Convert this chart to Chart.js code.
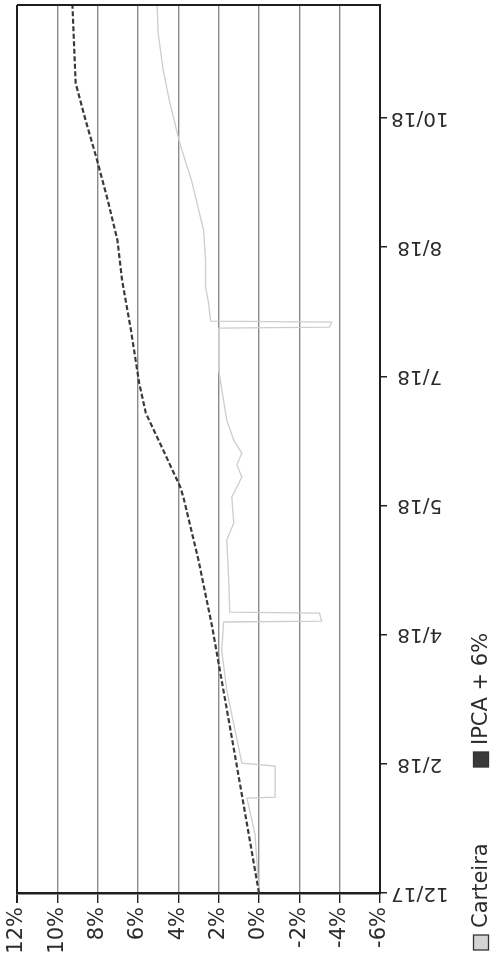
<!DOCTYPE html>
<html>
<head>
<meta charset="utf-8">
<script src="https://cdn.jsdelivr.net/npm/chart.js@4/dist/chart.umd.min.js"></script>
<style>
  html, body { margin: 0; padding: 0; background: #ffffff; }
  #wrap { width: 493px; height: 966px; position: relative; }
</style>
</head>
<body>
<div id="wrap"><canvas id="c"></canvas></div>
<script>
// Tick labels
const rotulosData = ['12/17', '2/18', '4/18', '5/18', '7/18', '8/18', '10/18'];
const ticksPct = [12, 10, 8, 6, 4, 2, 0, -2, -4, -6];
const tempoMax = 6.875; // end of the series, in date-tick intervals

// Series names
const nomes = ['Carteira', 'IPCA + 6%'];

// Carteira: position along the date axis (in tick intervals) and return (%)
const tempoCarteira = [0, 0.46, 0.735, 0.743, 0.983, 1.006, 1.571, 1.881, 2.098, 2.105, 2.167, 2.175, 2.423, 2.732, 2.864, 3.065, 3.22, 3.313, 3.406, 3.506, 3.661, 4.048, 4.373, 4.381, 4.42, 4.427, 4.567, 4.69, 4.899, 5.132, 5.519, 5.789, 5.882, 6.138, 6.37, 6.656, 6.873];
const carteira = [0, 0.2, 0.6, -0.8, -0.8, 0.85, 1.6, 1.85, 1.75, -3.1, -3.0, 1.45, 1.5, 1.6, 1.25, 1.35, 0.85, 1.1, 0.85, 1.25, 1.6, 2.0, 2.0, -3.5, -3.6, 2.4, 2.5, 2.65, 2.65, 2.75, 3.35, 3.9, 4.05, 4.45, 4.75, 5.0, 5.05];

// IPCA + 6%
const tempoIPCA = [0, 1.029, 2.059, 2.577, 3.065, 3.142, 3.429, 3.715, 3.947, 4.358, 4.745, 5.054, 5.364, 5.697, 5.983, 6.269, 6.602, 6.873];
const ipca = [0, 1.15, 2.32, 3.0, 3.75, 3.9, 4.75, 5.61, 5.94, 6.35, 6.79, 7.02, 7.5, 8.07, 8.6, 9.09, 9.18, 9.25];

const FONT = 'DejaVu Sans';
const TXT = '#2b2b2b';

const pontos = (ts, vs) => ts.map((t, i) => ({ x: vs[i], y: t }));

const legendaVertical = {
  id: 'legendaVertical',
  afterDraw(chart) {
    const ctx = chart.ctx;
    const area = chart.chartArea;
    // top border of plot area
    ctx.save();
    ctx.strokeStyle = '#1e1e1e';
    ctx.lineWidth = 2;
    ctx.beginPath();
    ctx.moveTo(area.left, area.top);
    ctx.lineTo(area.right, area.top);
    ctx.stroke();
    ctx.restore();

    // rotated legend (reads bottom to top)
    ctx.save();
    ctx.translate(chart.width - 12, area.bottom + 57);
    ctx.rotate(-Math.PI / 2);
    ctx.font = '21px "' + FONT + '"';
    ctx.textBaseline = 'middle';
    ctx.textAlign = 'left';
    const passo = [0, 183];
    chart.data.datasets.forEach((ds, i) => {
      const p = passo[i];
      ctx.fillStyle = ds.caixa;
      ctx.strokeStyle = '#333';
      ctx.lineWidth = 1.3;
      ctx.fillRect(p, -7.5, 15, 15);
      ctx.strokeRect(p, -7.5, 15, 15);
      ctx.fillStyle = TXT;
      ctx.fillText(ds.label, p + 22, 1);
    });
    ctx.restore();
  }
};

new Chart(document.getElementById('c'), {
  type: 'scatter',
  data: {
    datasets: [
      {
        label: nomes[0],
        data: pontos(tempoCarteira, carteira),
        showLine: true,
        borderColor: '#cdcdcd',
        borderWidth: 1.3,
        pointRadius: 0,
        tension: 0,
        order: 1,
        caixa: '#d4d4d4'
      },
      {
        label: nomes[1],
        data: pontos(tempoIPCA, ipca),
        showLine: true,
        borderColor: '#3a3a3a',
        borderWidth: 2.2,
        borderDash: [5, 2.5],
        pointRadius: 0,
        tension: 0,
        order: 0,
        caixa: '#3a3a3a'
      }
    ]
  },
  options: {
    responsive: true,
    maintainAspectRatio: false,
    animation: false,
    layout: { padding: { left: 17, right: 35, top: 5, bottom: 0 } },
    plugins: {
      legend: { display: false },
      tooltip: { enabled: false }
    },
    scales: {
      x: {
        type: 'linear',
        reverse: true,
        min: -6,
        max: 12,
        afterBuildTicks: s => { s.ticks = ticksPct.map(v => ({ value: v })); },
        afterFit: s => { s.height = 73; s.paddingLeft = 0; s.paddingRight = 0; },
        grid: {
          color: c => (c.tick && c.tick.value === 12) ? '#1e1e1e' : '#8a8a8a',
          lineWidth: c => (c.tick && c.tick.value === 12) ? 2 : 1.4,
          tickColor: '#222',
          tickLength: 10,
          drawTicks: true
        },
        border: { display: true, color: '#1e1e1e', width: 2.5 },
        ticks: {
          minRotation: 90,
          maxRotation: 90,
          autoSkip: false,
          padding: 4,
          color: TXT,
          font: { family: FONT, size: 21 },
          callback: v => v + '%'
        }
      },
      y: {
        type: 'linear',
        position: 'right',
        min: 0,
        max: tempoMax,
        afterBuildTicks: s => { s.ticks = rotulosData.map((_, i) => ({ value: i })); },
        afterFit: s => { s.width = 78; s.paddingTop = 0; s.paddingBottom = 0; },
        grid: {
          display: true,
          drawOnChartArea: false,
          drawTicks: true,
          tickLength: 7,
          color: '#222',
          lineWidth: 1.5
        },
        border: { display: true, color: '#1e1e1e', width: 2 },
        ticks: {
          minRotation: 180,
          maxRotation: 180,
          crossAlign: 'center',
          autoSkip: false,
          padding: 4,
          color: TXT,
          font: { family: FONT, size: 20 },
          callback: v => rotulosData[v]
        }
      }
    }
  },
  plugins: [legendaVertical]
});
</script>
</body>
</html>
